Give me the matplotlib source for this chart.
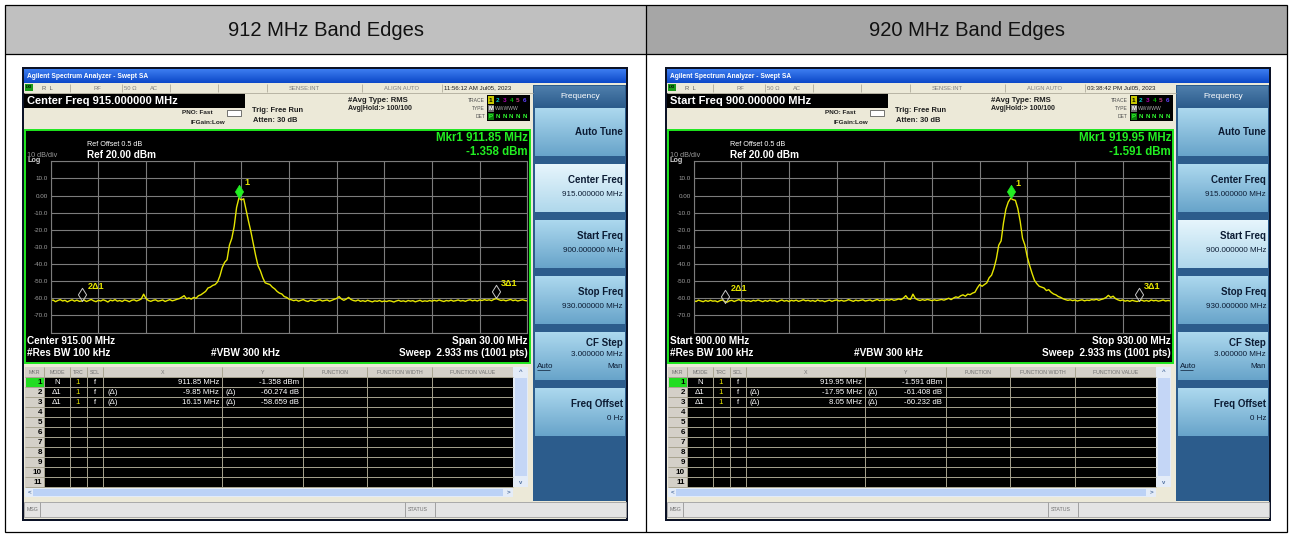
import numpy as np
import matplotlib.pyplot as plt
from matplotlib.patches import Rectangle
from matplotlib.colors import LinearSegmentedColormap

plt.rcParams['font.family'] = ['Liberation Sans', 'DejaVu Sans']

W, H = 1290, 535

start_mhz, stop_mhz = 900.0, 930.0

titles = ['912 MHz Band Edges', '920 MHz Band Edges']

trace_912 = [
    -61.5, -61.0, -62.0, -61.3, -60.8, -61.6, -61.2, -62.1, -61.4, -60.9,
    -61.7, -61.1, -61.8, -61.6, -61.0, -61.9, -61.3, -60.7, -61.5, -62.0,
    -61.2, -61.6, -60.9, -61.4, -62.2, -61.1, -61.5, -60.8, -61.7, -61.3,
    -61.9, -61.0, -61.4, -62.0, -61.2, -60.9, -61.6, -61.1, -60.4, -57.6,
    -60.2, -61.3, -61.8, -61.2, -60.9, -61.7, -61.4, -61.0, -61.9, -61.3,
    -60.8, -61.5, -61.1, -60.6, -60.2, -59.4, -58.5, -60.3, -59.8, -60.5,
    -59.5, -60.0, -58.5, -58.0, -57.0, -56.0, -54.0, -53.5, -52.5, -52.0,
    -50.5, -47.0, -42.0, -39.0, -37.5, -29.0, -25.0, -18.0, -7.0, -1.36,
    -2.6, -1.9, -8.5, -15.0, -21.0, -28.0, -35.0, -41.0, -44.0, -48.0,
    -51.0, -51.5, -52.0, -53.5, -54.5, -56.0, -57.0, -57.5, -59.0, -59.5,
    -60.5, -60.9, -61.4, -61.0, -61.7, -61.2, -60.8, -61.5, -61.9, -61.1,
    -61.4, -61.8, -61.2, -60.9, -61.6, -61.3, -61.0, -61.7, -61.2, -60.6,
    -60.1, -59.0, -60.4, -61.2, -60.5, -59.5, -60.7, -61.3, -61.6, -61.0,
    -61.8, -61.4, -61.9, -61.2, -61.7, -62.1, -61.5, -61.8, -61.3, -62.0,
    -61.6, -61.9, -61.4, -61.7, -62.2, -61.6, -61.2, -61.8, -61.5, -62.0,
    -61.3, -61.7, -61.4, -62.1, -61.6, -61.2, -61.9, -61.5, -61.8, -61.3,
    -61.7, -61.2, -61.6, -61.0, -61.5, -61.9, -61.3, -61.6, -61.1, -61.7,
    -61.4, -61.0, -61.6, -61.3, -61.8, -61.2, -60.9, -61.5, -61.1, -61.6,
    -61.0, -61.3, -60.8, -61.2, -60.9, -61.4, -60.6, -60.2, -60.8, -61.3,
    -61.0, -61.5, -61.1, -60.7, -61.4, -61.0, -61.6, -61.2, -60.9, -61.3,
    -61.5]

trace_920 = [
    -61.4, -61.9, -61.1, -61.6, -62.0, -61.3, -61.8, -61.2, -61.7, -61.5,
    -62.1, -61.4, -61.0, -61.8, -62.3, -61.5, -61.2, -61.9, -61.3, -60.8,
    -61.6, -61.1, -61.7, -61.4, -61.9, -61.2, -61.6, -61.0, -61.5, -62.0,
    -61.3, -61.8, -61.1, -61.6, -61.4, -62.1, -61.5, -61.0, -61.7, -61.3,
    -61.9, -61.2, -61.6, -61.1, -61.8, -61.4, -60.9, -61.5, -61.2, -61.7,
    -61.3, -61.9, -61.0, -61.6, -61.4, -62.0, -61.5, -61.1, -61.8, -61.3,
    -61.0, -61.6, -61.2, -61.7, -61.4, -60.8, -61.3, -61.8, -61.1, -61.5,
    -61.2, -60.9, -61.6, -61.3, -61.0, -61.7, -61.2, -60.7, -61.4, -61.0,
    -61.3, -60.8, -61.1, -60.6, -61.2, -60.9, -60.4, -60.8, -59.9, -58.5,
    -60.3, -60.6, -57.6, -60.1, -60.9, -61.3, -60.8, -61.2, -60.7, -61.0,
    -61.4, -60.9, -61.3, -61.0, -60.7, -61.1, -60.6, -60.0, -60.8, -59.9,
    -59.2, -59.6, -58.6, -58.0, -58.8, -57.6, -57.9, -57.0, -56.5, -54.0,
    -52.0, -53.0, -52.0, -51.0, -48.0, -46.5, -42.5, -37.0, -29.0, -26.5,
    -16.0, -8.0, -3.8, -1.59, -2.4, -2.8, -7.5, -15.0, -25.0, -29.0,
    -36.0, -41.0, -45.5, -49.5, -51.5, -53.0, -53.5, -54.0, -55.5, -55.0,
    -56.5, -57.5, -58.0, -59.0, -59.5, -60.3, -60.8, -61.2, -60.9, -61.4,
    -61.0, -61.6, -61.2, -60.9, -61.5, -61.1, -61.3, -60.8, -61.0, -60.6,
    -61.2, -60.7, -60.3, -59.6, -58.3, -59.5, -58.8, -60.2, -60.9, -61.4,
    -61.0, -61.7, -61.3, -61.8, -61.2, -61.6, -61.9, -61.5, -61.1, -61.7,
    -61.3, -61.8, -61.0, -61.5, -61.2, -61.7, -61.4, -61.0, -61.6, -61.3,
    -61.5]

assert len(trace_912) == 201 and len(trace_920) == 201

mkr_names = ['1', '2\u03941', '3\u03941']
mkr_freq_912 = [911.85, 902.0, 928.0]
mkr_level_912 = [-1.358, -61.632, -60.017]
mkr_freq_920 = [919.95, 902.0, 928.0]
mkr_level_920 = [-1.591, -62.999, -61.823]

table_912 = [('N', '', '911.85 MHz', '', '-1.358 dBm'),
             ('\u03941', '(\u0394)', '-9.85 MHz', '(\u0394)', '-60.274 dB'),
             ('\u03941', '(\u0394)', '16.15 MHz', '(\u0394)', '-58.659 dB')]
table_920 = [('N', '', '919.95 MHz', '', '-1.591 dBm'),
             ('\u03941', '(\u0394)', '-17.95 MHz', '(\u0394)', '-61.408 dB'),
             ('\u03941', '(\u0394)', '8.05 MHz', '(\u0394)', '-60.232 dB')]

active_entry = ['Center Freq 915.000000 MHz', 'Start Freq 900.000000 MHz']
clock = ['11:56:12 AM Jul05, 2023', '03:38:42 PM Jul05, 2023']
bottom_left = ['Center 915.00 MHz', 'Start 900.00 MHz']
bottom_right = ['Span 30.00 MHz', 'Stop 930.00 MHz']
active_key = ['Center Freq', 'Start Freq']

softkeys = [('Auto Tune', ''), ('Center Freq', '915.000000 MHz'),
            ('Start Freq', '900.000000 MHz'), ('Stop Freq', '930.000000 MHz'),
            ('CF Step', '3.000000 MHz'), ('Freq Offset', '0 Hz')]

ytick_values = [20, 10, 0, -10, -20, -30, -40, -50, -60, -70, -80]
ytick_labels = ['', '10.0', '0.00', '-10.0', '-20.0', '-30.0', '-40.0',
                '-50.0', '-60.0', '-70.0', '']

table_heads = ['MKR', 'MODE', 'TRC', 'SCL', 'X', 'Y', 'FUNCTION',
               'FUNCTION WIDTH', 'FUNCTION VALUE']

YEL = '#e6e600'
GRN = '#22ee22'

fig = plt.figure(figsize=(W / 100, H / 100), dpi=100)
bg = fig.add_axes([0, 0, 1, 1])
bg.axis('off')


def box(x, y, w, h, fc, ec='none', lw=0.0, z=1):
    bg.add_patch(Rectangle((x, y), w, h, facecolor=fc, edgecolor=ec,
                           linewidth=lw, zorder=z))


def grad(x, y, w, h, top, bottom, z=1):
    cmap = LinearSegmentedColormap.from_list('g', [top, bottom])
    bg.imshow(np.linspace(0, 1, 40).reshape(-1, 1), cmap=cmap,
              extent=(x, x + w, y + h, y), aspect='auto', zorder=z,
              interpolation='bilinear')


def txt(x, y, s, size=5.0, color='black', ha='left', weight='normal', z=6, **kw):
    bg.text(x, y, s, fontsize=size, color=color, ha=ha, va='center',
            fontweight=weight, zorder=z, **kw)


def hline(x0, x1, y, color, lw=0.7, z=4):
    bg.plot([x0, x1], [y, y], color=color, lw=lw, zorder=z, solid_capstyle='butt')


def vline(x, y0, y1, color, lw=0.7, z=4):
    bg.plot([x, x], [y0, y1], color=color, lw=lw, zorder=z, solid_capstyle='butt')


def draw_panel(k, dx, trace, mfreq, mlevel, rows):
    x0 = 22 + dx
    box(x0, 67, 606, 454, '#0b1226')
    box(x0 + 2, 69, 602, 450, '#ece9d8', z=1.5)

    # window title
    grad(x0 + 2, 69, 602, 14, '#3d7df0', '#0c48c8', z=2)
    txt(x0 + 5, 76, 'Agilent Spectrum Analyzer - Swept SA', 4.8, 'white', weight='bold')

    # status strip
    hline(x0 + 2, x0 + 511, 92.5, '#b8b4a4')
    box(x0 + 3, 84, 8, 7, '#1a9a1a', z=3)
    txt(x0 + 4, 87.5, 'LXI', 2.8, 'black', weight='bold')
    txt(x0 + 20, 88, 'R  L', 4.2, '#606060')
    txt(x0 + 75, 88, 'RF', 4.2, '#808080', ha='center')
    txt(x0 + 102, 88, '50 \u03a9', 4.2, '#808080')
    txt(x0 + 128, 88, 'AC', 4.2, '#808080')
    txt(x0 + 267, 88, 'SENSE:INT', 4.2, '#808080')
    txt(x0 + 362, 88, 'ALIGN AUTO', 4.2, '#808080')
    txt(x0 + 422, 88, clock[k], 4.4, '#202020')
    for sx in (48, 100, 148, 196, 245, 340, 420):
        vline(x0 + sx, 84, 92, '#b8b4a4')

    # active function entry and settings
    box(x0 + 2, 93, 221, 15, 'black', z=3)
    txt(x0 + 5, 100.5, active_entry[k], 8, 'white', weight='bold')
    txt(x0 + 191, 113, 'PNO: Fast', 4.6, '#202020', ha='right', weight='bold')
    txt(x0 + 203, 122, 'IFGain:Low', 4.6, '#202020', ha='right', weight='bold')
    box(x0 + 205, 110, 14, 6, 'white', ec='#404040', lw=0.5, z=3)
    txt(x0 + 230, 110, 'Trig: Free Run', 5.4, '#202020', weight='bold')
    txt(x0 + 231, 120, 'Atten: 30 dB', 5.4, '#202020', weight='bold')
    txt(x0 + 326, 100, '#Avg Type: RMS', 5.6, '#202020', weight='bold')
    txt(x0 + 326, 108, 'Avg|Hold:> 100/100', 5.0, '#202020', weight='bold')
    txt(x0 + 463, 100, 'TRACE', 3.6, '#505050', ha='right')
    txt(x0 + 463, 108, 'TYPE', 3.6, '#505050', ha='right')
    txt(x0 + 463, 116, 'DET', 3.6, '#505050', ha='right')
    box(x0 + 465, 95, 43, 26, 'black', z=3)
    trace_cols = ['black', '#00c8c8', '#b000b0', '#00b000', '#c04080', '#6040ff']
    box(x0 + 465.5, 96, 6.5, 8, '#c8c800', z=3.5)
    box(x0 + 465.5, 104.5, 6.5, 7.5, '#707070', z=3.5)
    box(x0 + 465.5, 112.5, 6.5, 7.5, '#0a7a0a', z=3.5)
    for i, c in enumerate(trace_cols):
        txt(x0 + 468.8 + i * 6.8, 100, str(i + 1), 4.6, c, ha='center', weight='bold')
    txt(x0 + 468.8, 108, 'M', 4.2, 'white', ha='center', weight='bold')
    txt(x0 + 473, 108, 'WWWWW', 3.6, '#b0b0b0')
    txt(x0 + 468.8, 116, 'P', 4.4, '#30ff30', ha='center', weight='bold')
    for i in range(1, 6):
        txt(x0 + 468.8 + i * 6.8, 116, 'N', 4.4, '#30ff30', ha='center', weight='bold')

    # screen
    box(x0 + 3, 130, 505, 233, 'black', ec='#1ee61e', lw=1.4, z=2)
    txt(x0 + 65, 145, 'Ref Offset 0.5 dB', 5.2, 'white')
    txt(x0 + 65, 155, 'Ref 20.00 dBm', 7.2, 'white', weight='bold')
    txt(x0 + 5, 155.5, '10 dB/div', 5.2, '#9a9a9a')
    txt(x0 + 5, 161, 'Log', 5.2, '#d0d0d0', weight='bold')
    txt(x0 + 506, 138, 'Mkr1 %.2f MHz' % mfreq[0], 8.3, GRN, ha='right', weight='bold')
    txt(x0 + 506, 152, '%.3f dBm' % mlevel[0], 8.3, GRN, ha='right', weight='bold')
    txt(x0 + 5, 341, bottom_left[k], 7.2, 'white', weight='bold')
    txt(x0 + 5, 353.5, '#Res BW 100 kHz', 7.2, 'white', weight='bold')
    txt(x0 + 189, 353.5, '#VBW 300 kHz', 7.2, 'white', weight='bold')
    txt(x0 + 506, 341, bottom_right[k], 7.2, 'white', ha='right', weight='bold')
    txt(x0 + 506, 353.5, 'Sweep  2.933 ms (1001 pts)', 7.2, 'white', ha='right', weight='bold')

    gx0, gx1, gy0, gy1 = 50.7 + dx, 527.3 + dx, 161.3, 332.5
    ax = fig.add_axes([gx0 / W, 1 - gy1 / H, (gx1 - gx0) / W, (gy1 - gy0) / H])
    ax.set_facecolor('black')
    freq = np.linspace(start_mhz, stop_mhz, len(trace))
    ax.plot(freq, trace, color=YEL, lw=1.0)
    ax.set_xlim(start_mhz, stop_mhz)
    ax.set_ylim(-80, 20)
    ax.set_xticks(np.linspace(start_mhz, stop_mhz, 11))
    ax.set_xticklabels([])
    ax.set_yticks(ytick_values, ytick_labels)
    ax.grid(color='#7c7c7c', lw=0.8)
    ax.set_axisbelow(True)
    ax.tick_params(length=0, labelcolor='#a0a0a0', labelsize=4.5, pad=2)
    for sp in ax.spines.values():
        sp.set_color('#7c7c7c')
        sp.set_linewidth(0.8)
    diamond = [(0, 0), (0.31, 0.5), (0, 1), (-0.31, 0.5), (0, 0)]
    for i, (f, v) in enumerate(zip(mfreq, mlevel)):
        if i == 0:
            ax.plot([f], [v], marker=diamond, ms=19, mfc=GRN, mec=GRN, mew=0.5,
                    clip_on=False, zorder=5)
        else:
            ax.plot([f], [v], marker=diamond, ms=19, mfc='none', mec='#c8c8c8',
                    mew=0.7, clip_on=False, zorder=5)
        ax.annotate(mkr_names[i], (f, v), xytext=(3.6, 10.8), textcoords='offset points',
                    color=YEL, fontsize=6.5, fontweight='bold', va='center', ha='left',
                    annotation_clip=False)

    # marker table
    cols = [25, 44, 70, 87, 103, 222, 303, 367, 432, 513]
    box(25 + dx, 367, 488, 10, '#d4d0c8', z=2)
    box(25 + dx, 377, 19, 110, '#d4d0c8', z=2)
    box(44 + dx, 377, 469, 110, 'black', z=2)
    box(26 + dx, 377.6, 17.5, 9, '#22dd22', z=2.5)
    for i in range(12):
        hline(25 + dx, 513 + dx, 377 + 10 * i, '#a8a490')
    for c in cols[1:-1]:
        vline(c + dx, 367, 487, '#a8a490')
    for j, head in enumerate(table_heads):
        txt((cols[j] + cols[j + 1]) / 2 + dx, 372.2, head, 3.8, '#707070', ha='center')
    for i in range(11):
        txt(42 + dx, 382 + 10 * i, str(i + 1), 5.8, 'black', ha='right', weight='bold')
    for i, (mode, xd, xv, yd, yv) in enumerate(rows):
        yy = 382 + 10 * i
        txt(57 + dx, yy, mode, 5.6, 'white', ha='center')
        txt(78 + dx, yy, '1', 5.6, YEL, ha='center')
        txt(95 + dx, yy, 'f', 5.6, 'white', ha='center')
        txt(107 + dx, yy, xd, 5.6, 'white')
        txt(219 + dx, yy, xv, 5.6, 'white', ha='right')
        txt(225 + dx, yy, yd, 5.6, 'white')
        txt(299 + dx, yy, yv, 5.6, 'white', ha='right')
    box(513 + dx, 367, 15, 120, '#e4ecf8', z=2)
    box(514.5 + dx, 378, 12, 98, '#c4d6f6', z=2.5)
    txt(520.5 + dx, 372, '^', 4.5, '#5070a0', ha='center', weight='bold')
    txt(520.5 + dx, 482, 'v', 4.2, '#5070a0', ha='center', weight='bold')
    box(25 + dx, 488, 488, 9, '#e4ecf8', z=2)
    box(33 + dx, 489, 470, 7, '#bcd2f6', z=2.5)
    txt(28 + dx, 492.5, '<', 4.5, '#5070a0', weight='bold')
    txt(507 + dx, 492.5, '>', 4.5, '#5070a0', weight='bold')

    # message bar
    box(x0 + 2, 502, 602, 15, '#e4e4e4', ec='#a0a0a0', lw=0.6, z=2)
    txt(x0 + 5, 509.5, 'MSG', 3.8, '#707070')
    vline(x0 + 18, 502, 517, '#a0a0a0')
    txt(x0 + 386, 509.5, 'STATUS', 3.8, '#707070')
    vline(x0 + 383, 502, 517, '#a0a0a0')
    vline(x0 + 413, 502, 517, '#a0a0a0')

    # softkey menu
    box(533 + dx, 85, 93, 416, '#2c5c8c', z=2)
    grad(534 + dx, 86, 91, 20, '#4e7eac', '#2e5e8e', z=2.5)
    txt(580 + dx, 96, 'Frequency', 6, 'white', ha='center')
    for i, (name, sub) in enumerate(softkeys):
        top = 108 + 56 * i
        if name == active_key[k]:
            grad(535 + dx, top, 90, 48, '#e6f5fc', '#b0d8ec', z=2.5)
        else:
            grad(535 + dx, top, 90, 48, '#acd8ee', '#68a4ca', z=2.5)
        if name == 'CF Step':
            txt(623 + dx, top + 11, name, 7, '#0c1c34', ha='right', weight='bold')
            txt(623 + dx, top + 23, sub, 5.8, '#0c1c34', ha='right')
            txt(537 + dx, top + 34, 'Auto', 5.8, '#0c1c34')
            hline(537 + dx, 550 + dx, top + 38, '#0c1c34', lw=0.5, z=6)
            txt(623 + dx, top + 34, 'Man', 5.8, '#0c1c34', ha='right')
        elif sub:
            txt(623 + dx, top + 16, name, 7, '#0c1c34', ha='right', weight='bold')
            txt(623 + dx, top + 31, sub, 5.8, '#0c1c34', ha='right')
        else:
            txt(623 + dx, top + 24, name, 7, '#0c1c34', ha='right', weight='bold')


# document table around the two screenshots
box(5, 5, 641, 49, '#c0c0c0')
box(646, 5, 641, 49, '#a6a6a6')
bg.add_patch(Rectangle((5, 5), 1282, 527, facecolor='none', edgecolor='black',
                       linewidth=0.9, zorder=8))
hline(5, 1287, 54, 'black', lw=0.9, z=8)
vline(646, 5, 532, 'black', lw=0.9, z=8)
txt(326, 30, titles[0], 14.5, '#111111', ha='center')
txt(967, 30, titles[1], 14.5, '#111111', ha='center')

draw_panel(0, 0, trace_912, mkr_freq_912, mkr_level_912, table_912)
draw_panel(1, 643, trace_920, mkr_freq_920, mkr_level_920, table_920)

bg.set_xlim(0, W)
bg.set_ylim(H, 0)
fig.savefig('out.png', dpi=100, facecolor='white')
